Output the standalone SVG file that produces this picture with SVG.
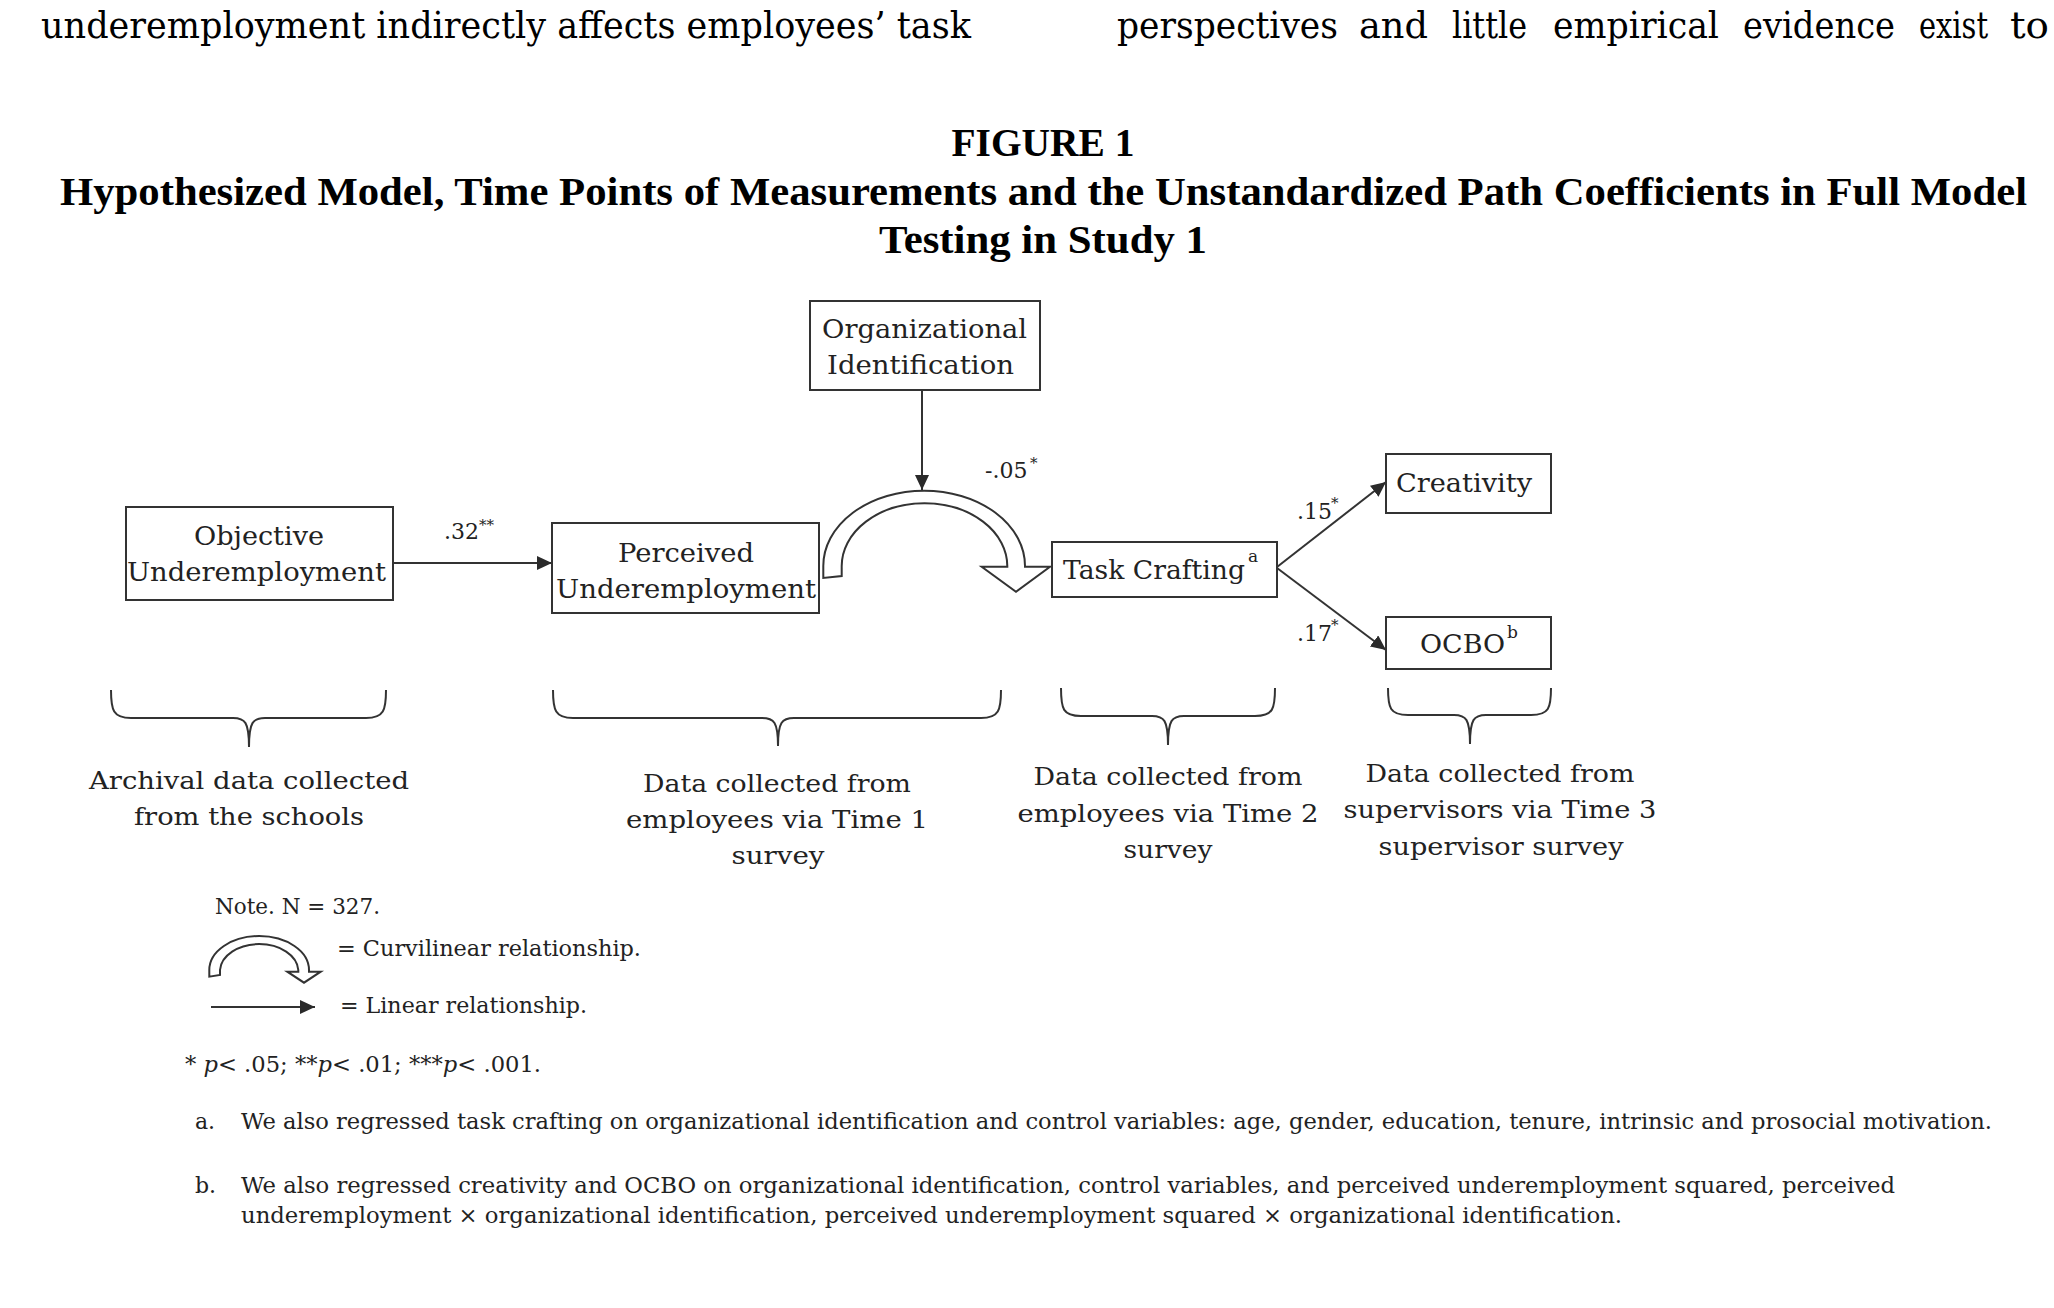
<svg xmlns="http://www.w3.org/2000/svg" width="2054" height="1308" viewBox="0 0 2054 1308">
<defs>
<style>
.body{font-family:"DejaVu Serif","Liberation Serif",serif;font-size:38px;fill:#000}
.title{font-family:"Liberation Serif",serif;font-weight:bold;font-size:41px;fill:#000}
.lbl{font-family:"DejaVu Serif","Liberation Serif",serif;font-size:26.5px;fill:#222}
.coef{font-family:"DejaVu Serif","Liberation Serif",serif;font-size:22px;fill:#222}
.sup{font-family:"DejaVu Serif","Liberation Serif",serif;font-size:15px;fill:#222}
.supl{font-family:"DejaVu Serif","Liberation Serif",serif;font-size:17px;fill:#222}
.brt{font-family:"DejaVu Serif","Liberation Serif",serif;font-size:25px;fill:#222}
.note{font-family:"DejaVu Serif","Liberation Serif",serif;font-size:22px;fill:#222}
.box{fill:#fff;stroke:#333;stroke-width:2}
.ln{fill:none;stroke:#333;stroke-width:2}
.brace{fill:none;stroke:#333;stroke-width:2}
.hollow{fill:#fff;stroke:#333;stroke-width:2;stroke-linejoin:miter}
</style>
<marker id="ah" markerUnits="userSpaceOnUse" markerWidth="15" markerHeight="14" refX="15" refY="7" orient="auto">
<path d="M0,0 L15,7 L0,14 Z" fill="#2a2a2a"/>
</marker>
</defs>
<rect width="2054" height="1308" fill="#fff"/>

<!-- body text -->
<text class="body" x="41" y="38" textLength="930" lengthAdjust="spacingAndGlyphs">underemployment indirectly affects employees’ task</text>
<text class="body" x="1117" y="38" textLength="221" lengthAdjust="spacingAndGlyphs">perspectives</text>
<text class="body" x="1359" y="38" textLength="69" lengthAdjust="spacingAndGlyphs">and</text>
<text class="body" x="1452" y="38" textLength="75" lengthAdjust="spacingAndGlyphs">little</text>
<text class="body" x="1553" y="38" textLength="166" lengthAdjust="spacingAndGlyphs">empirical</text>
<text class="body" x="1743" y="38" textLength="152" lengthAdjust="spacingAndGlyphs">evidence</text>
<text class="body" x="1919" y="38" textLength="69" lengthAdjust="spacingAndGlyphs">exist</text>
<text class="body" x="2010" y="38" textLength="39" lengthAdjust="spacingAndGlyphs">to</text>

<!-- title -->
<text class="title" x="1043" y="156" text-anchor="middle" textLength="183" lengthAdjust="spacingAndGlyphs">FIGURE 1</text>
<text class="title" x="1043.5" y="205" text-anchor="middle" textLength="1967" lengthAdjust="spacingAndGlyphs">Hypothesized Model, Time Points of Measurements and the Unstandardized Path Coefficients in Full Model</text>
<text class="title" x="1043" y="253" text-anchor="middle" textLength="328" lengthAdjust="spacingAndGlyphs">Testing in Study 1</text>

<!-- connectors -->
<g id="connectors">
<line class="ln" x1="393" y1="563" x2="552" y2="563" marker-end="url(#ah)"/>
<line class="ln" x1="922" y1="390" x2="922" y2="490" marker-end="url(#ah)"/>
<line class="ln" x1="1277" y1="567" x2="1386" y2="482" marker-end="url(#ah)"/>
<line class="ln" x1="1277" y1="568" x2="1386" y2="650" marker-end="url(#ah)"/>
<path class="hollow" d="M823.3,578 L823.3,566 A100.8,75.3 0 0 1 1025,566 L1025,566.7 L1050,566.7 L1016,591.7 L981.7,566.7 L1007.3,566.7 L1007.3,566 A82.8,62.7 0 0 0 841.7,566 L841.7,576 Z"/>
<text class="coef" x="444" y="539">.32</text><text class="sup" x="479" y="530">**</text>
<text class="coef" x="985" y="478">-.05</text><text class="sup" x="1030" y="468">*</text>
<text class="coef" x="1297" y="519">.15</text><text class="sup" x="1331" y="508">*</text>
<text class="coef" x="1297" y="641">.17</text><text class="sup" x="1331" y="630">*</text>
</g>

<!-- nodes -->
<g id="org-identification">
<rect class="box" x="810" y="301" width="230" height="89"/>
<text class="lbl" x="822" y="338" textLength="205" lengthAdjust="spacingAndGlyphs">Organizational</text>
<text class="lbl" x="827" y="374" textLength="187" lengthAdjust="spacingAndGlyphs">Identification</text>
</g>
<g id="objective-underemployment">
<rect class="box" x="126" y="507" width="267" height="93"/>
<text class="lbl" x="194" y="545" textLength="130" lengthAdjust="spacingAndGlyphs">Objective</text>
<text class="lbl" x="127" y="581" textLength="259" lengthAdjust="spacingAndGlyphs">Underemployment</text>
</g>
<g id="perceived-underemployment">
<rect class="box" x="552" y="523" width="267" height="90"/>
<text class="lbl" x="618" y="562" textLength="136" lengthAdjust="spacingAndGlyphs">Perceived</text>
<text class="lbl" x="556" y="598" textLength="260" lengthAdjust="spacingAndGlyphs">Underemployment</text>
</g>
<g id="task-crafting">
<rect class="box" x="1052" y="542" width="225" height="55"/>
<text class="lbl" x="1063" y="579" textLength="182" lengthAdjust="spacingAndGlyphs">Task Crafting</text>
<text class="supl" x="1248" y="562">a</text>
</g>
<g id="creativity">
<rect class="box" x="1386" y="454" width="165" height="59"/>
<text class="lbl" x="1396" y="492" textLength="136" lengthAdjust="spacingAndGlyphs">Creativity</text>
</g>
<g id="ocbo">
<rect class="box" x="1386" y="617" width="165" height="52"/>
<text class="lbl" x="1420" y="653" textLength="85" lengthAdjust="spacingAndGlyphs">OCBO</text>
<text class="supl" x="1507" y="638">b</text>
</g>

<!-- braces and time-point labels -->
<g id="brace-archival">
<path class="brace" d="M111,690 C111,710 113,718 131,718 L233,718 C245,718 249,722 249,747 C249,722 253,718 265,718 L366,718 C384,718 386,710 386,690"/>
<text class="brt" x="249" y="789" text-anchor="middle" textLength="320" lengthAdjust="spacingAndGlyphs">Archival data collected</text>
<text class="brt" x="249" y="825" text-anchor="middle" textLength="230" lengthAdjust="spacingAndGlyphs">from the schools</text>
</g>
<g id="brace-time1">
<path class="brace" d="M553,690 C553,710 555,718 573,718 L762,718 C774,718 778,722 778,746 C778,722 782,718 794,718 L981,718 C999,718 1001,710 1001,690"/>
<text class="brt" x="777" y="792" text-anchor="middle" textLength="268" lengthAdjust="spacingAndGlyphs">Data collected from</text>
<text class="brt" x="777" y="828" text-anchor="middle" textLength="302" lengthAdjust="spacingAndGlyphs">employees via Time 1</text>
<text class="brt" x="778" y="864" text-anchor="middle" textLength="93" lengthAdjust="spacingAndGlyphs">survey</text>
</g>
<g id="brace-time2">
<path class="brace" d="M1061,688 C1061,709 1063,716 1081,716 L1152,716 C1164,716 1168,720 1168,745 C1168,720 1172,716 1184,716 L1255,716 C1273,716 1275,709 1275,688"/>
<text class="brt" x="1168" y="785" text-anchor="middle" textLength="269" lengthAdjust="spacingAndGlyphs">Data collected from</text>
<text class="brt" x="1168" y="822" text-anchor="middle" textLength="301" lengthAdjust="spacingAndGlyphs">employees via Time 2</text>
<text class="brt" x="1168" y="858" text-anchor="middle" textLength="89" lengthAdjust="spacingAndGlyphs">survey</text>
</g>
<g id="brace-time3">
<path class="brace" d="M1388,688 C1388,708 1390,715 1408,715 L1454,715 C1466,715 1470,719 1470,744 C1470,719 1474,715 1486,715 L1531,715 C1549,715 1551,708 1551,688"/>
<text class="brt" x="1500" y="782" text-anchor="middle" textLength="269" lengthAdjust="spacingAndGlyphs">Data collected from</text>
<text class="brt" x="1500" y="818" text-anchor="middle" textLength="313" lengthAdjust="spacingAndGlyphs">supervisors via Time 3</text>
<text class="brt" x="1501" y="855" text-anchor="middle" textLength="245" lengthAdjust="spacingAndGlyphs">supervisor survey</text>
</g>

<!-- notes / legend -->
<g id="legend">
<text class="note" x="215" y="914" textLength="165" lengthAdjust="spacingAndGlyphs">Note. N = 327.</text>
<path class="hollow" d="M209.3,976.7 L209.3,970 A49.85,34 0 0 1 309,970 L309,971.7 L320.7,971.7 L304,982.7 L287.3,971.7 L298.3,971.7 L298.3,970 A39.2,27.3 0 0 0 220,970 L220,975 Z"/>
<text class="note" x="337" y="956" textLength="304" lengthAdjust="spacingAndGlyphs">= Curvilinear relationship.</text>
<line class="ln" x1="211" y1="1007" x2="315" y2="1007" marker-end="url(#ah)"/>
<text class="note" x="340" y="1013" textLength="247" lengthAdjust="spacingAndGlyphs">= Linear relationship.</text>
<text class="note" x="185" y="1072" textLength="356" lengthAdjust="spacingAndGlyphs">* <tspan font-style="italic">p</tspan>&lt; .05; **<tspan font-style="italic">p</tspan>&lt; .01; ***<tspan font-style="italic">p</tspan>&lt; .001.</text>
<text class="note" x="195" y="1129">a.</text>
<text class="note" x="241" y="1129" textLength="1751" lengthAdjust="spacingAndGlyphs">We also regressed task crafting on organizational identification and control variables: age, gender, education, tenure, intrinsic and prosocial motivation.</text>
<text class="note" x="195" y="1193">b.</text>
<text class="note" x="241" y="1193" textLength="1654" lengthAdjust="spacingAndGlyphs">We also regressed creativity and OCBO on organizational identification, control variables, and perceived underemployment squared, perceived</text>
<text class="note" x="241" y="1223" textLength="1381" lengthAdjust="spacingAndGlyphs">underemployment × organizational identification, perceived underemployment squared × organizational identification.</text>
</g>
</svg>
